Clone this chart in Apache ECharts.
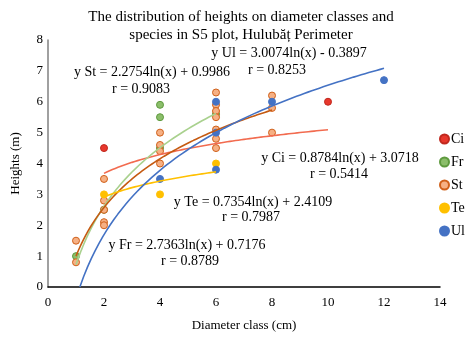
<!DOCTYPE html>
<html><head><meta charset="utf-8">
<script src="https://cdn.jsdelivr.net/npm/echarts@6/dist/echarts.min.js"></script>
<style>html,body{margin:0;padding:0;background:#fff}#c{width:465px;height:337px}</style>
</head><body><div id="c"></div>
<script>
var species = ['Ci','Fr','St','Te','Ul'];
var ciPoints = [[2,4.5],[10,6.0]];
var frPoints = [[1,1.0],[2,2.5],[4,5.9],[4,5.5],[4,4.5],[6,5.6]];
var stPoints = [[1,1.5],[1,0.8],[2,3.5],[2,2.8],[2,2.5],[2,2.1],[2,2.0],[4,5.0],[4,4.6],[4,4.4],[4,4.0],
                [6,6.3],[6,5.9],[6,5.7],[6,5.5],[6,5.1],[6,4.8],[6,4.5],[8,6.2],[8,5.8],[8,5.0]];
var tePoints = [[2,3.0],[4,3.0],[6,4.0]];
var ulPoints = [[4,3.5],[6,6.0],[6,5.0],[6,3.8],[8,6.0],[12,6.7]];
// trendline coefficients y = a ln(x) + b, range [x0, x1]
var trendA = [0.8784, 2.7363, 2.2754, 0.7354, 3.0074];
var trendB = [3.0718, 0.7176, 0.9986, 2.4109, -0.3897];
var trendX0 = [2, 1, 1, 2, 1.138];
var trendX1 = [10, 6, 8, 6, 12];
var trendR = ['0.5414','0.8789','0.9083','0.7987','0.8253'];
var xTicks = [0,2,4,6,8,10,12,14];
var yTicks = [0,1,2,3,4,5,6,7,8];

var pts = [ciPoints, frPoints, stPoints, tePoints, ulPoints];
var fill = ['#E8372C','#8BBE6A','#F6B084','#FFC000','#4472C4'];
var stroke = ['#C0281E','#5E9A3E','#D0601A','#FFC000','#4472C4'];
var lineCol = ['#F26B4F','#A9D18E','#C55A11','#FFC000','#4472C4'];
var font = 'Liberation Serif';

function trend(i){
  var out=[], x0=trendX0[i], x1=trendX1[i], n=80;
  for(var k=0;k<=n;k++){var x=x0+(x1-x0)*k/n; out.push([x, Math.max(0,trendA[i]*Math.log(x)+trendB[i])]);}
  return out;
}
function fmt(i){
  var b=trendB[i];
  return 'y '+species[i]+' = '+trendA[i].toFixed(4)+'ln(x) '+(b<0?'- ':'+ ')+Math.abs(b).toFixed(4);
}

var series=[];
species.forEach(function(s,i){
  series.push({name:s,type:'scatter',data:pts[i],symbol:'circle',symbolSize:7,z:2,
    itemStyle:{color:fill[i],borderColor:stroke[i],borderWidth:1,opacity:1}});
});
species.forEach(function(s,i){
  series.push({name:s+' trend',type:'line',data:trend(i),showSymbol:false,symbol:'none',smooth:false,z:3,
    lineStyle:{color:lineCol[i],width:1.6},silent:true});
});

// equation label centers: [x, y of first line, x of r line, y of r line]
var eqPos = [[340,158,339,174],[187,245,190,261],[152,72,141,89],[253,202,251,217],[289,53,277,70]];
var graphics=[];
species.forEach(function(s,i){
  graphics.push({type:'text',x:eqPos[i][0],y:eqPos[i][1],
    style:{text:fmt(i),font:'14px '+font,fill:'#000',align:'center',verticalAlign:'middle'}});
  graphics.push({type:'text',x:eqPos[i][2],y:eqPos[i][3],
    style:{text:'r = '+trendR[i],font:'14px '+font,fill:'#000',align:'center',verticalAlign:'middle'}});
});

var chart = echarts.init(document.getElementById('c'));
chart.setOption({
  animation:false,
  backgroundColor:'#fff',
  title:{text:'The distribution of heights on diameter classes and\nspecies in S5 plot, Hulubăț Perimeter',
    left:236,top:3,textAlign:'center',
    textStyle:{fontFamily:font,fontSize:15,fontWeight:'normal',color:'#000',lineHeight:18}},
  legend:{data:species,orient:'vertical',left:434,top:127,itemGap:9,itemWidth:9,itemHeight:9,
    icon:'circle',textStyle:{fontFamily:font,fontSize:14,color:'#000',padding:[0,0,0,-3]}},
  grid:{left:48,right:25,top:40,bottom:50,containLabel:false,outerBoundsMode:'none'},
  xAxis:{type:'value',min:0,max:14,interval:2,name:'Diameter class (cm)',nameLocation:'middle',nameGap:32,
    nameTextStyle:{fontFamily:font,fontSize:13,color:'#000'},
    axisLine:{show:true,onZero:false,lineStyle:{color:'#000',width:1.5}},axisTick:{show:false},
    splitLine:{show:false},axisLabel:{fontFamily:font,fontSize:13,color:'#000',margin:9}},
  yAxis:{type:'value',min:0,max:8,interval:1,name:'Heights (m)',nameLocation:'middle',nameGap:26,nameRotate:90,
    nameTextStyle:{fontFamily:font,fontSize:13,color:'#000'},
    axisLine:{show:true,lineStyle:{color:'#808080',width:1.5}},axisTick:{show:false},
    splitLine:{show:false},axisLabel:{fontFamily:font,fontSize:13,color:'#000',margin:5}},
  graphic:graphics,
  series:series
});
</script></body></html>
